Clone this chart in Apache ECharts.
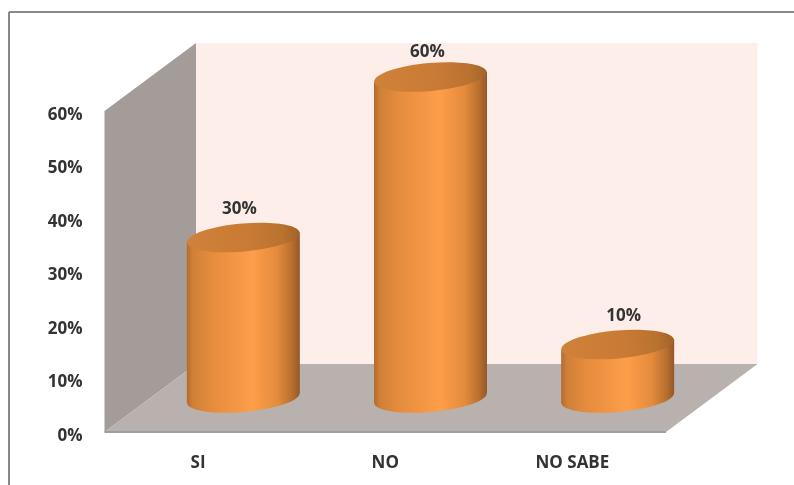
<!DOCTYPE html>
<html>
<head>
<meta charset="utf-8">
<style>html,body{margin:0;padding:0;background:#fff}#c{width:794px;height:485px}</style>
<script src="https://cdn.jsdelivr.net/npm/echarts@6/dist/echarts.min.js"></script>
</head>
<body>
<div id="c"></div>
<script>
const categories = ['SI', 'NO', 'NO SABE'];
const values = [0.3, 0.6, 0.1];
const yTicks = [0, 0.1, 0.2, 0.3, 0.4, 0.5, 0.6];

const FONT = '"Open Sans", "Noto Sans", sans-serif';
const DEPTH_X = 91.5, DEPTH_Y = -68;    // full depth of the 3D box
const RX = 56.5, RY = 14, TILT = 5;     // cylinder ellipse
const LABEL_SHIFT = [[-4, -28], [-3, -24.5], [6, -28]];

const chart = echarts.init(document.getElementById('c'), null, {renderer: 'canvas'});

function hGrad(stops) {
  return new echarts.graphic.LinearGradient(0, 0, 1, 0,
    stops.map(s => ({offset: s[0], color: s[1]})));
}
const bodyFill = () => hGrad([[0, '#b46a2e'], [0.05, '#cf8037'], [0.22, '#e68c3e'], [0.58, '#fd9e49'],
  [0.8, '#e48b3d'], [0.93, '#b86f2e'], [1, '#94582a']]);
const topFill = () => hGrad([[0, '#d0823a'], [0.55, '#c97b35'], [0.85, '#b9722f'], [1, '#a26329']]);

function renderBox(params, api) {
  const g = params.coordSys;
  const x0 = g.x, x1 = g.x + g.width, yB = g.y + g.height, yT = g.y;
  const poly = (pts, fill) => ({type: 'polygon', shape: {points: pts}, style: {fill: fill}});
  return {
    type: 'group',
    children: [
      poly([[x0 + DEPTH_X, yT + DEPTH_Y], [x1 + DEPTH_X, yT + DEPTH_Y], [x1 + DEPTH_X, yB + DEPTH_Y], [x0 + DEPTH_X, yB + DEPTH_Y]], '#fdeee9'),
      poly([[x0, yB], [x0, yT], [x0 + DEPTH_X, yT + DEPTH_Y], [x0 + DEPTH_X, yB + DEPTH_Y]], '#a39c99'),
      poly([[x0, yB], [x1, yB], [x1 + DEPTH_X, yB + DEPTH_Y], [x0 + DEPTH_X, yB + DEPTH_Y]], '#b9b1ae'),
      {type: 'line', shape: {x1: x0, y1: yB, x2: x1, y2: yB}, style: {stroke: '#98a0a6', lineWidth: 2}}
    ]
  };
}

function renderCylinder(params, api) {
  const i = api.value(0), v = api.value(1);
  const top = api.coord([i, v]), base = api.coord([i, 0]);
  const cx = top[0] + DEPTH_X / 2 - 0.5, topY = top[1] + DEPTH_Y / 2, baseY = base[1] + DEPTH_Y / 2;
  const dy = RX * Math.tan(TILT * Math.PI / 180);
  const ell = (y, fill) => ({
    type: 'ellipse',
    shape: {cx: cx, cy: y, rx: RX, ry: RY},
    rotation: TILT * Math.PI / 180,
    originX: cx, originY: y,
    style: {fill: fill}
  });
  const s = LABEL_SHIFT[params.dataIndex];
  return {
    type: 'group',
    children: [
      ell(baseY, bodyFill()),
      {type: 'polygon',
       shape: {points: [[cx - RX, topY + dy], [cx + RX, topY - dy], [cx + RX, baseY - dy], [cx - RX, baseY + dy]]},
       style: {fill: bodyFill()}},
      ell(topY, topFill()),
      {type: 'text',
       x: cx + s[0], y: topY + s[1],
       style: {text: Math.round(v * 100) + '%', font: '700 17px ' + FONT, fill: '#333',
               align: 'center', verticalAlign: 'middle'}}
    ]
  };
}

chart.setOption({
  animation: false,
  backgroundColor: '#fff',
  graphic: [
    {type: 'line', shape: {x1: 9, y1: 485, x2: 9, y2: 12}, style: {stroke: '#888', lineWidth: 2}, z: 10},
    {type: 'line', shape: {x1: 9, y1: 12, x2: 794, y2: 12}, style: {stroke: '#888', lineWidth: 2}, z: 10}
  ],
  grid: {left: 104.5, right: 128, top: 111, bottom: 53},
  xAxis: {
    type: 'category', data: categories,
    axisLine: {show: false}, axisTick: {show: false},
    axisLabel: {color: '#333', fontFamily: FONT, fontWeight: 700, fontSize: 17, margin: 23}
  },
  yAxis: {
    type: 'value', min: yTicks[0], max: yTicks[yTicks.length - 1], interval: yTicks[1],
    splitLine: {show: false}, axisLine: {show: false}, axisTick: {show: false},
    axisLabel: {margin: 22,
                formatter: v => '{a|' + Math.round(v * 100) + '%}',
                rich: {a: {color: '#333', fontFamily: FONT, fontWeight: 700, fontSize: 17, padding: [8, 0, 0, 0]}}}
  },
  series: [
    {type: 'custom', renderItem: renderBox, data: [[0, 0]], silent: true, clip: false, z: 1},
    {type: 'custom', renderItem: renderCylinder, clip: false, z: 2,
     encode: {x: 0, y: 1},
     data: values.map((v, i) => [i, v])}
  ]
});
</script>
</body>
</html>
